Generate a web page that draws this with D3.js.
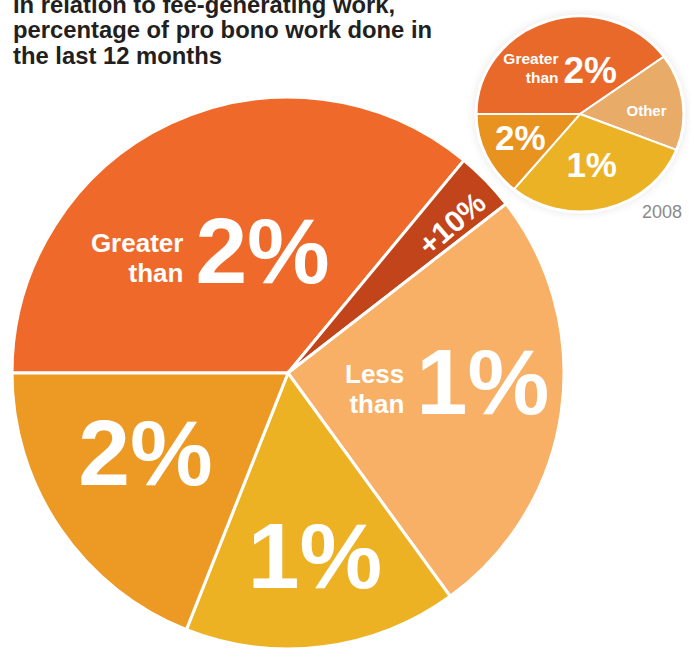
<!DOCTYPE html>
<html>
<head>
<meta charset="utf-8">
<script src="https://cdn.jsdelivr.net/npm/d3@7"></script>
<style>
  html, body { margin: 0; padding: 0; background: #ffffff; }
  svg { display: block; font-family: "Liberation Sans", Arial, sans-serif; }
</style>
</head>
<body>
<svg id="chart" width="691" height="652"></svg>
<script>
// Pro bono share in relation to fee-generating work — current year
const mainCategories = ["Greater than 2%", "+10%", "Less than 1%", "1%", "2%"];
const mainValues     = [36, 3.5, 25.5, 16, 19];
const mainWords      = [["Greater", "than"], null, ["Less", "than"], null, null];
const mainNumbers    = ["2%", "+10%", "1%", "1%", "2%"];
const mainColors     = ["#EF6A2A", "#C1441A", "#F8AF66", "#ECB224", "#ED9A25"];

// 2008 comparison
const pastCategories = ["Greater than 2%", "Other", "1%", "2%"];
const pastValues     = [40, 16, 30, 14];
const pastWords      = [["Greater", "than"], null, null, null];
const pastNumbers    = ["2%", "Other", "1%", "2%"];
const pastColors     = ["#E9692A", "#E8AB68", "#EAB224", "#E8921F"];
const pastYear       = "2008";

const titleLines = [
  "In relation to fee-generating work,",
  "percentage of pro bono work done in",
  "the last 12 months"
];

const svg = d3.select("#chart");
const defs = svg.append("defs");
const halo = defs.append("filter").attr("id", "halo")
  .attr("x", "-20%").attr("y", "-20%").attr("width", "140%").attr("height", "140%");
halo.append("feGaussianBlur").attr("stdDeviation", 4);

const pie = d3.pie().sort(null).startAngle(-Math.PI / 2).endAngle(1.5 * Math.PI);

// ---------- main pie ----------
const main = { cx: 288, cy: 373, r: 276 };
const mainArc = d3.arc().innerRadius(0).outerRadius(main.r);
const mainArcs = pie(mainValues);

const gMain = svg.append("g").attr("transform", `translate(${main.cx},${main.cy})`);
gMain.selectAll("path").data(mainArcs).join("path")
  .attr("d", mainArc)
  .attr("fill", (d, i) => mainColors[i])
  .attr("stroke", "#ffffff")
  .attr("stroke-width", 3)
  .attr("stroke-linejoin", "miter");

// label placement: centroid at a fraction of the radius, then nudged
const mainLabelLayout = [
  { k: 0.55, dx: -34, dy: 47, fs: 93, ws: 26 },
  { k: 0.80, dx: 5,   dy: 4,  fs: 30, rot: -41 },
  { k: 0.55, dx: -28, dy: 20, fs: 92, ws: 26 },
  { k: 0.55, dx: 8,   dy: 64, fs: 93 },
  { k: 0.55, dx: -17, dy: 27, fs: 93 }
];

function drawLabels(g, arcs, radius, layout, words, numbers, opts) {
  arcs.forEach((d, i) => {
    const L = layout[i];
    const c = d3.arc().innerRadius(radius * L.k).outerRadius(radius * L.k).centroid(d);
    const x = c[0] + L.dx, y = c[1] + L.dy;
    const lg = g.append("g").attr("fill", "#ffffff").attr("font-weight", "bold");
    if (L.rot !== undefined) {
      lg.append("text")
        .attr("transform", `translate(${x},${y}) rotate(${L.rot})`)
        .attr("text-anchor", "middle")
        .attr("dy", "0.36em")
        .attr("font-size", L.fs)
        .text(numbers[i]);
    } else if (words[i]) {
      lg.append("text")
        .attr("x", x + opts.gap).attr("y", y)
        .attr("font-size", L.fs)
        .text(numbers[i]);
      words[i].forEach((w, j) => {
        lg.append("text")
          .attr("x", x - opts.gap).attr("y", y + opts.wordLines[j])
          .attr("text-anchor", "end")
          .attr("font-size", L.ws)
          .text(w);
      });
    } else {
      lg.append("text")
        .attr("x", x).attr("y", y)
        .attr("text-anchor", "middle")
        .attr("font-size", L.fs)
        .text(numbers[i]);
    }
  });
}

drawLabels(gMain, mainArcs, main.r, mainLabelLayout, mainWords, mainNumbers,
  { gap: 6, wordLines: [-31, -1] });

// ---------- 2008 pie ----------
const past = { cx: 580, cy: 114, r: 100, sx: 1.035, sy: 0.975 };
const pastArc = d3.arc().innerRadius(0).outerRadius(past.r);
const pastArcs = pie(pastValues);

const gPast = svg.append("g").attr("transform", `translate(${past.cx},${past.cy})`);
gPast.append("ellipse")
  .attr("rx", past.r * past.sx + 3).attr("ry", past.r * past.sy + 3)
  .attr("fill", "#000000").attr("opacity", 0.08)
  .attr("filter", "url(#halo)");
gPast.append("ellipse")
  .attr("rx", past.r * past.sx + 2).attr("ry", past.r * past.sy + 2)
  .attr("fill", "#ffffff");
gPast.append("g").attr("transform", `scale(${past.sx},${past.sy})`)
  .selectAll("path").data(pastArcs).join("path")
  .attr("d", pastArc)
  .attr("fill", (d, i) => pastColors[i])
  .attr("stroke", "#ffffff")
  .attr("stroke-width", 2);

const pastLabelLayout = [
  { k: 0.55, dx: -2,  dy: 21, fs: 37, ws: 15.5 },
  { k: 0.55, dx: 12,  dy: 9,  fs: 15 },
  { k: 0.55, dx: -2,  dy: 10, fs: 35 },
  { k: 0.55, dx: -10, dy: 13, fs: 35 }
];
drawLabels(gPast, pastArcs, past.r, pastLabelLayout, pastWords, pastNumbers,
  { gap: 2.5, wordLines: [-19, 0] });

gPast.append("text")
  .attr("x", 62).attr("y", 104)
  .attr("font-size", 18)
  .attr("fill", "#8a8a8a")
  .text(pastYear);

// ---------- title ----------
svg.append("g")
  .selectAll("text").data(titleLines).join("text")
  .attr("x", 13)
  .attr("y", (d, i) => 12.5 + i * 25.5)
  .attr("font-size", 23.8)
  .attr("font-weight", "bold")
  .attr("fill", "#231F20")
  .text(d => d);
</script>
</body>
</html>
